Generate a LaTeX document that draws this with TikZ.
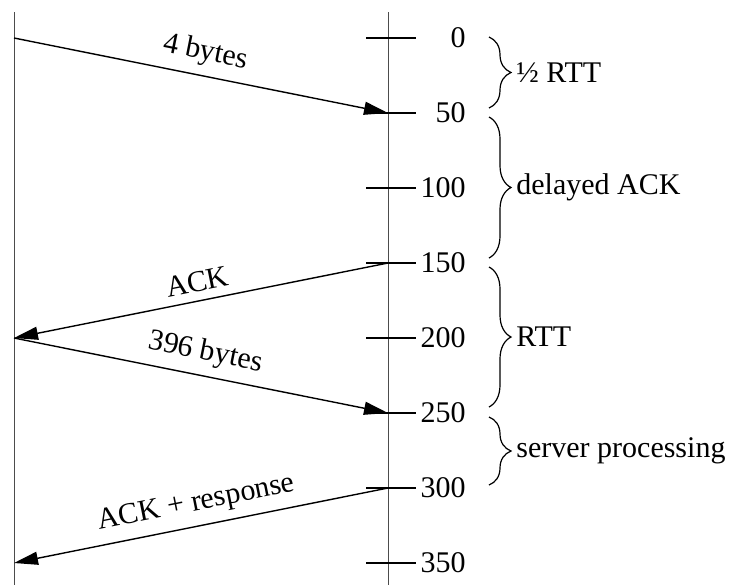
\documentclass[tikz,border=0pt]{standalone}
\usepackage{fontspec}
\setmainfont{Liberation Serif}
\usetikzlibrary{arrows.meta,decorations.pathreplacing}

\begin{document}
\begin{tikzpicture}[x=0.5pt,y=-0.5pt,
    host/.style={draw=black!70,line width=0.5pt},
    tick/.style={draw,line width=0.8pt},
    msg/.style={draw,line width=0.7pt,-{Triangle[length=12pt,width=6.5pt]}},
    msglbl/.style={font=\fontsize{15}{18}\selectfont,midway,above=1pt,sloped},
    tlbl/.style={font=\fontsize{15}{18}\selectfont,anchor=east,inner sep=0pt},
    span/.style={decorate,decoration={brace,amplitude=11pt},line width=0.6pt},
    spanlbl/.style={font=\fontsize{15}{18}\selectfont,anchor=west,inner sep=0pt}]

    \useasboundingbox (0,0) rectangle (734,585);

    % Hosts
    \coordinate (ctop) at (14,12);
    \coordinate (cbot) at (14,585);
    \coordinate (stop) at (388,12);
    \coordinate (sbot) at (388,585);
    \draw[host] (ctop) -- (cbot);
    \draw[host] (stop) -- (sbot);

    % Time axis
    \foreach \t in {0,50,...,350} {
      \coordinate (c\t) at (14,{38+1.5*\t});
      \coordinate (s\t) at (388,{38+1.5*\t});
      \draw[tick] ([xshift=-11pt]s\t) -- ([xshift=14pt]s\t);
      \node[tlbl] (t\t) at (466,{38+1.5*\t}) {\t};
    }

    % Segments
    \draw[msg] (c0) -- node[msglbl] {4 bytes} (s50);
    \draw[msg] (s150) -- node[msglbl] {ACK} (c200);
    \draw[msg] (c200) -- node[msglbl] {396 bytes} (s250);
    \draw[msg] (s300) -- node[msglbl] {ACK + response} (c350);

    % Intervals
    \foreach \a/\b/\txt [count=\i] in {37/108/{½ RTT},117/258/{delayed ACK},
                                       267/407/{RTT},417/485/{server processing}} {
      \draw[span] (489,\a) -- (489,\b);
      \node[spanlbl] (b\i) at (516,{(\a+\b)/2}) {\txt};
    }
  \end{tikzpicture}
\end{document}
